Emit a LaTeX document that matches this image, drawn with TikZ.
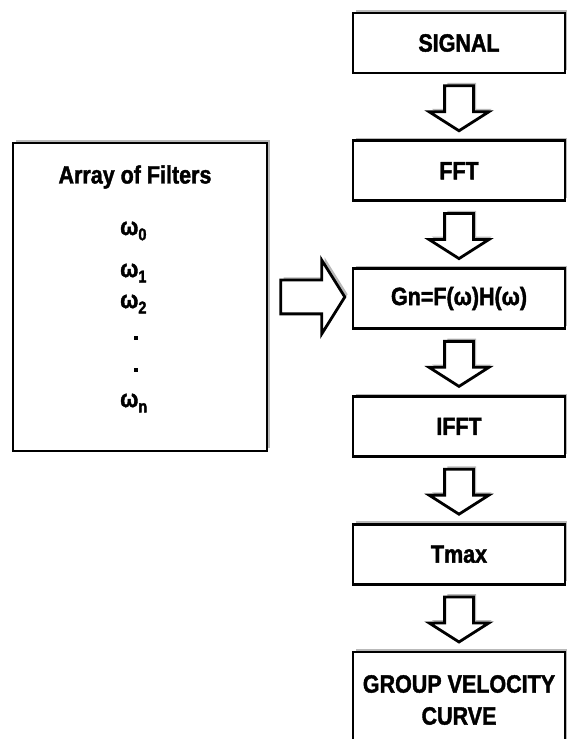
\documentclass[tikz,border=0pt]{standalone}
\usepackage{fontspec}
\setmainfont{Liberation Sans}
\newfontfamily\narrowsans[FakeStretch=0.86, BoldFeatures={FakeBold=1.6}]{Liberation Sans}
\usetikzlibrary{positioning}
\usetikzlibrary{calc}
\usetikzlibrary{shapes.arrows}
\usetikzlibrary{shadows}
\newcommand{\omsub}[1]{ω\raisebox{-0.4ex}{\fontsize{17}{17}\selectfont #1}}

\begin{document}
\begin{tikzpicture}[x=1pt, y=1pt,
    greyshadow/.style={drop shadow={shadow xshift=2.8pt, shadow yshift=2.8pt, fill=gray!55, opacity=1}},
    procbox/.style={draw=black, line width=2.8pt, fill=white, greyshadow,
        minimum width=212pt, minimum height=60pt, align=center,
        font=\narrowsans\fontsize{25}{32}\selectfont\bfseries},
    blockarr/.style={single arrow, draw=black, line width=2.8pt, fill=white, greyshadow,
        single arrow head indent=0pt},
    downarr/.style={blockarr, shape border rotate=270, inner sep=13pt,
        minimum height=45pt, single arrow head extend=15.5pt, single arrow tip angle=115},
    rightarr/.style={blockarr, inner sep=15.5pt,
        minimum height=64pt, single arrow head extend=20pt, single arrow tip angle=116},
    listtxt/.style={font=\narrowsans\fontsize{25}{28}\selectfont\bfseries, inner sep=0pt},
    dotsq/.style={fill=black, minimum size=4pt, inner sep=0pt}]
    \useasboundingbox (0,0) rectangle (567,739);

    % LEFT: filter bank
    \node[draw=black, line width=2.8pt, fill=white, greyshadow,
        minimum width=254pt, minimum height=308pt] (filters) at (140,442) {};
    \node[listtxt] (title) at (135,562) {Array of Filters};
    \node[listtxt, anchor=west] (w0) at (120,508) {\omsub{0}};
    \node[listtxt, anchor=west] (w1) at (120,466) {\omsub{1}};
    \node[listtxt, anchor=west] (w2) at (120,435) {\omsub{2}};
    \node[dotsq] (d1) at (136,401) {};
    \node[dotsq] (d2) at (136,369) {};
    \node[listtxt, anchor=west] (wn) at (120,336) {\omsub{n}};

    % RIGHT: processing chain
    \node[procbox] (signal) at (459,696) {SIGNAL};
    \node[procbox, below=65pt of signal] (fft) {FFT};
    \node[procbox, below=65pt of fft] (gn) {Gn=F(ω)H(ω)};
    \node[procbox, below=65pt of gn] (ifft) {IFFT};
    \node[procbox, below=65pt of ifft] (tmax) {Tmax};
    \node[procbox, below=65pt of tmax, minimum height=96pt] (gvc) {GROUP VELOCITY\\CURVE};

    % block arrows
    \node[downarr, anchor=tail] (a1) at ($(signal.south)+(0,-10)$) {};
    \node[downarr, anchor=tail] (a2) at ($(fft.south)+(0,-10)$) {};
    \node[downarr, anchor=tail] (a3) at ($(gn.south)+(0,-10)$) {};
    \node[downarr, anchor=tail] (a4) at ($(ifft.south)+(0,-10)$) {};
    \node[downarr, anchor=tail] (a5) at ($(tmax.south)+(0,-10)$) {};
    \node[rightarr, anchor=tail] (a0) at ($(filters.east)+(11,0)$) {};
\end{tikzpicture}
\end{document}
